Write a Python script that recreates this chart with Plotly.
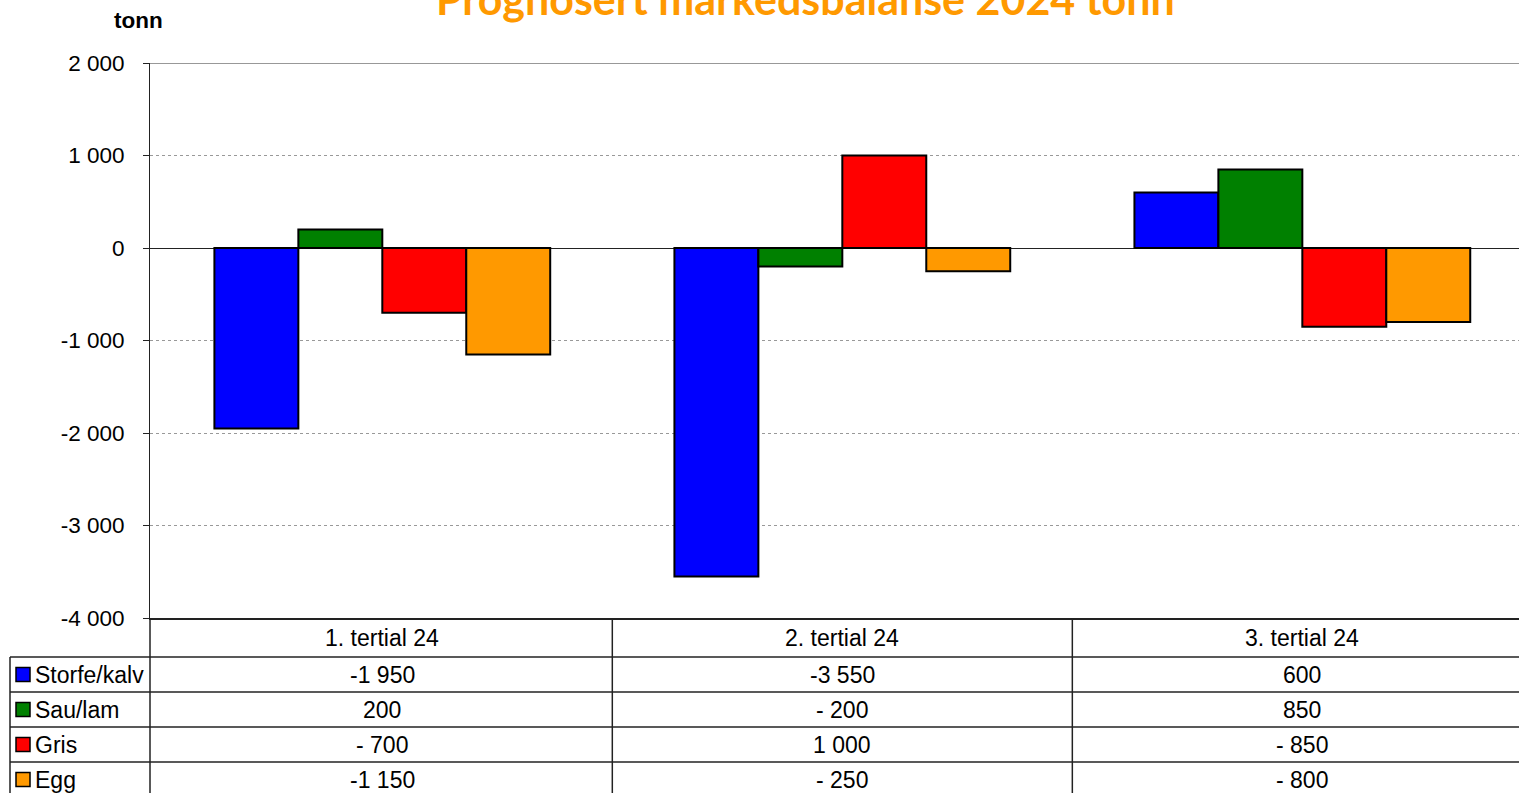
import plotly.graph_objects as go

# ---------------- data ----------------
categories = ["1. tertial 24", "2. tertial 24", "3. tertial 24"]
series_names = ["Storfe/kalv", "Sau/lam", "Gris", "Egg"]
storfe_kalv = [-1950, -3550, 600]
sau_lam = [200, -200, 850]
gris = [-700, 1000, -850]
egg = [-1150, -250, -800]
series_values = [storfe_kalv, sau_lam, gris, egg]
series_colors = ["#0000FF", "#008000", "#FF0000", "#FF9900"]
y_ticks = [2000, 1000, 0, -1000, -2000, -3000, -4000]
title_text = "Prognosert markedsbalanse 2024 tonn"
y_unit = "tonn"

W, H = 1519, 793
FONT = "Arial, Liberation Sans, sans-serif"
TXT = 23


def fmt(v):
    s = f"{abs(v):,}".replace(",", " ")
    if v < 0:
        return ("-" if abs(v) >= 1000 else "- ") + s
    return s


def px(x):
    return x / W


def py(y):
    return 1 - y / H


xs = list(range(len(categories)))

fig = go.Figure()
for name, vals, col in zip(series_names, series_values, series_colors):
    fig.add_trace(go.Bar(
        x=xs, y=vals, name=name,
        marker=dict(color=col, line=dict(color="black", width=2)),
        showlegend=False,
    ))

PLOT_TOP, PLOT_BOT, PLOT_L = 63, 618, 150
ROW_H = 35
HEAD_BOT = 657

shapes = []
annotations = []

# top border line at 2000
shapes.append(dict(type="line", xref="x domain", yref="y", x0=0, x1=1,
                   y0=y_ticks[0], y1=y_ticks[0], line=dict(color="#333", width=1)))

# table grid
shapes.append(dict(type="line", xref="paper", yref="paper", x0=px(10), x1=px(10),
                   y0=py(HEAD_BOT), y1=0, line=dict(color="#222", width=1.5)))
shapes.append(dict(type="line", xref="paper", yref="paper", x0=px(PLOT_L), x1=px(PLOT_L),
                   y0=py(PLOT_BOT), y1=0, line=dict(color="#222", width=1.5)))
for i in range(1, len(categories)):
    shapes.append(dict(type="line", xref="x", yref="paper", x0=i - 0.5, x1=i - 0.5,
                       y0=py(PLOT_BOT), y1=0, line=dict(color="#222", width=1.5)))
for r in range(len(series_names)):
    yy = HEAD_BOT + r * ROW_H
    shapes.append(dict(type="line", xref="paper", yref="paper", x0=px(10), x1=1,
                       y0=py(yy), y1=py(yy), line=dict(color="#222", width=1.5)))

# header texts
for i, c in enumerate(categories):
    annotations.append(dict(x=i, y=py(638), xref="x", yref="paper", text=c,
                            showarrow=False, xanchor="center", yanchor="middle",
                            font=dict(family=FONT, size=TXT, color="black")))

# rows
for r, (name, vals, col) in enumerate(zip(series_names, series_values, series_colors)):
    cy = HEAD_BOT + r * ROW_H + ROW_H / 2
    shapes.append(dict(type="rect", xref="paper", yref="paper",
                       x0=px(16), x1=px(30), y0=py(cy - 7), y1=py(cy + 7),
                       fillcolor=col, line=dict(color="black", width=1.5)))
    annotations.append(dict(x=px(33), y=py(cy), xref="paper", yref="paper", text=name,
                            showarrow=False, xanchor="left", yanchor="middle",
                            font=dict(family=FONT, size=TXT, color="black")))
    for i, v in enumerate(vals):
        annotations.append(dict(x=i, y=py(cy), xref="x", yref="paper", text=fmt(v),
                                showarrow=False, xanchor="center", yanchor="middle",
                                font=dict(family=FONT, size=TXT, color="black")))

# title (cut at top as in reference)
annotations.append(dict(x=px(805), y=py(-1), xref="paper", yref="paper", text=f"<b>{title_text}</b>",
                        showarrow=False, xanchor="center", yanchor="middle",
                        font=dict(family="Lato, Open Sans, sans-serif", size=43, color="#FF9900")))
# unit label
annotations.append(dict(x=px(138), y=py(21), xref="paper", yref="paper", text=f"<b>{y_unit}</b>",
                        showarrow=False, xanchor="center", yanchor="middle",
                        font=dict(family=FONT, size=22.5, color="black")))

fig.update_layout(
    template="none",
    width=W, height=H,
    margin=dict(l=0, r=0, t=0, b=0, pad=0),
    paper_bgcolor="white", plot_bgcolor="white",
    barmode="group", bargap=0.27, bargroupgap=0,
    font=dict(family=FONT, size=TXT, color="black"),
    xaxis=dict(domain=[px(PLOT_L), 1], range=[-0.505, 2.471], showticklabels=False,
               showgrid=False, zeroline=False, showline=True, linecolor="#222",
               linewidth=2, ticks="", automargin=False, fixedrange=True),
    yaxis=dict(domain=[py(PLOT_BOT), py(PLOT_TOP)], range=[y_ticks[-1], y_ticks[0]],
               tickvals=y_ticks, ticktext=[fmt(v) for v in y_ticks],
               tickfont=dict(family=FONT, size=22.5, color="black"),
               ticks="outside", ticklen=6, tickcolor="#222", tickwidth=1,
               ticklabelstandoff=14,
               showline=True, linecolor="#222", linewidth=1,
               showgrid=True, gridcolor="#999", griddash="dot", gridwidth=1,
               zeroline=True, zerolinecolor="#222", zerolinewidth=1,
               automargin=False, fixedrange=True),
    shapes=shapes, annotations=annotations,
)

fig.write_html(
    "out.html",
    config={"displayModeBar": False},
    post_script="document.body.style.margin='0';document.body.style.overflow='hidden';",
)
